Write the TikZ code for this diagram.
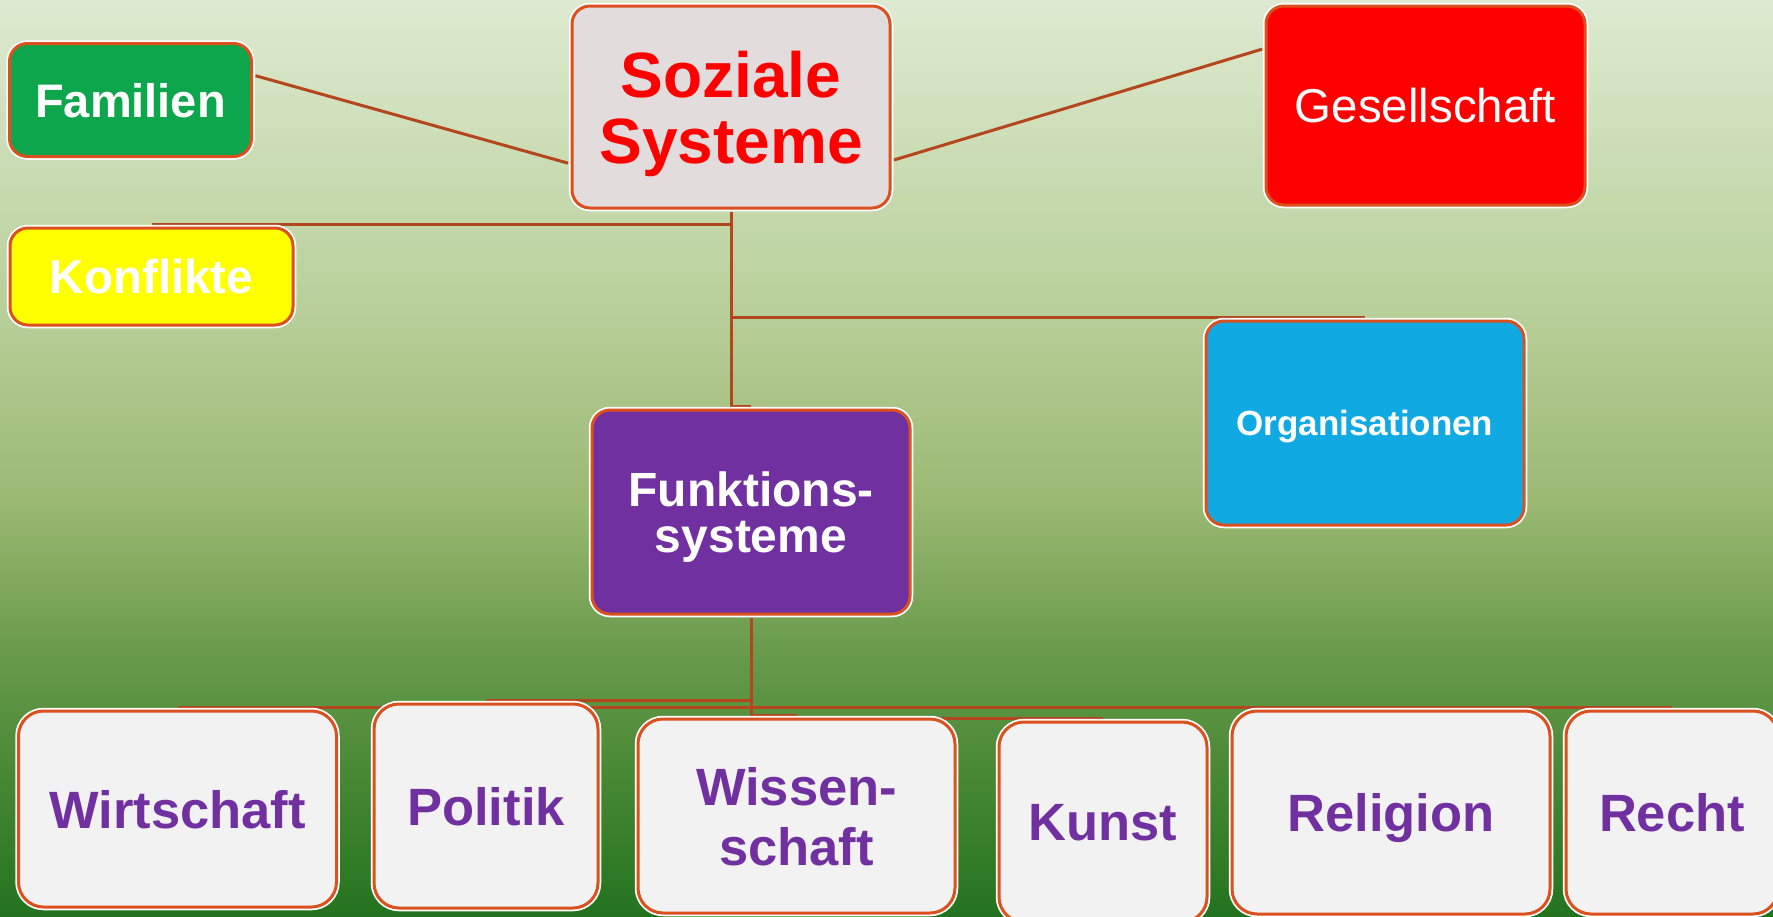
\documentclass[tikz,border=0pt]{standalone}
\usepackage{fontspec}
\setmainfont{Liberation Sans}

\definecolor{bgtop}{RGB}{222,234,208}
\definecolor{bgmida}{RGB}{185,208,155}
\definecolor{bgmidb}{RGB}{155,185,115}
\definecolor{bgmidc}{RGB}{105,155,75}
\definecolor{bgmidd}{RGB}{70,135,52}
\definecolor{bgbot}{RGB}{35,115,30}
\definecolor{boxline}{RGB}{218,80,30}
\definecolor{linkcol}{RGB}{180,70,30}
\definecolor{famfill}{RGB}{14,166,76}
\definecolor{sozfill}{RGB}{226,220,220}
\definecolor{gesfill}{RGB}{255,0,0}
\definecolor{konffill}{RGB}{255,255,0}
\definecolor{orgfill}{RGB}{16,169,225}
\definecolor{funkfill}{RGB}{112,48,160}
\definecolor{subfill}{RGB}{242,242,242}

\pgfdeclareverticalshading{bgshade}{100bp}{color(0bp)=(bgbot); color(25bp)=(bgbot); color(32.4bp)=(bgmidd); color(39.5bp)=(bgmidc); color(47.7bp)=(bgmidb); color(58.6bp)=(bgmida); color(75bp)=(bgtop); color(100bp)=(bgtop)}

\pgfdeclarelayer{back}
\pgfdeclarelayer{lines}
\pgfsetlayers{back,lines,main}

\tikzset{
    box/.style={rounded corners=18pt, draw=boxline, line width=3pt, align=center, inner sep=0pt, outer sep=4pt,
        text depth=0pt, text=white, preaction={draw=white, line width=6.5pt}},
    subbox/.style={box, rounded corners=25pt, fill=subfill, text=funkfill,
        font=\fontsize{52.5}{60}\selectfont\bfseries},
    link/.style={draw=linkcol, line width=3pt},
}

\begin{document}
\begin{tikzpicture}[x=1pt,y=1pt,yscale=-1]
            \useasboundingbox (0,0) rectangle (1773,916);
            %Background
            \begin{pgfonlayer}{back}
            \shade[shading=bgshade] (0,0) rectangle (1773,916);
            \end{pgfonlayer}

            %Upper boxes
            \node[box, fill=sozfill, text=gesfill, minimum width=318pt, minimum height=202pt, font=\fontsize{64}{66}\selectfont\bfseries] (soz) at (731,107) {Soziale\\Systeme};
            \node[box, fill=famfill, minimum width=242pt, minimum height=113pt, font=\fontsize{47}{50}\selectfont\bfseries] (fam) at (130.5,100) {Familien};
            \node[box, fill=gesfill, minimum width=319pt, minimum height=199pt, font=\fontsize{47.5}{50}\selectfont] (ges) at (1425.5,105.5) {Gesellschaft};
            \node[box, fill=konffill, minimum width=283pt, minimum height=97pt, font=\fontsize{47.5}{50}\selectfont\bfseries] (konf) at (151.5,276.5) {Konflikte};
            \node[box, fill=orgfill, minimum width=318pt, minimum height=204pt, font=\fontsize{35}{38}\selectfont\bfseries] (org) at (1365,423) {Organisationen};
            \node[box, fill=funkfill, minimum width=318pt, minimum height=204pt, font=\fontsize{48}{46}\selectfont\bfseries] (funk) at (751,512) {Funktions-\\systeme};

            %Function systems
            \node[subbox, minimum width=318pt, minimum height=196pt] (wirt) at (177.5,809) {Wirtschaft};
            \node[subbox, minimum width=224pt, minimum height=204pt] (pol) at (486,806) {Politik};
            \node[subbox, minimum width=317pt, minimum height=194pt] (wiss) at (796.5,816) {Wissen-\\schaft};
            \node[subbox, minimum width=208pt, minimum height=200pt] (kunst) at (1103,822) {Kunst};
            \node[subbox, minimum width=318pt, minimum height=203pt] (rel) at (1391,812.5) {Religion};
            \node[subbox, minimum width=212pt, minimum height=203pt] (recht) at (1672,812.5) {Recht};

            %Connectors
            \begin{pgfonlayer}{lines}
            \draw[link] (fam.11) -- (soz.199);
            \draw[link] (soz.-18) -- (ges.161);
            \draw[link] (soz.south) |- (konf.north);
            \draw[link] (soz.south) |- (org.north);
            \draw[link] (soz.south) |- (funk.north);
            \foreach \sys in {wirt,pol,wiss,kunst,rel,recht}
                \draw[link] (funk.south) |- (\sys.north);
            \end{pgfonlayer}
\end{tikzpicture}
\end{document}
